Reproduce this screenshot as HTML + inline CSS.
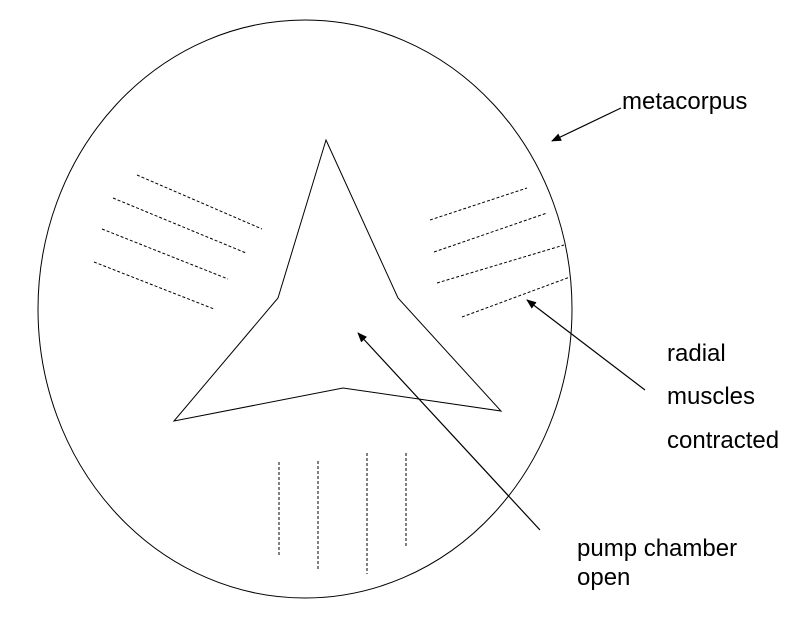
<!DOCTYPE html>
<html><head><meta charset="utf-8"><style>
html,body{margin:0;padding:0;background:#fff;}
svg{display:block;}
text{font-family:"Liberation Sans",Arial,sans-serif;font-size:24px;fill:#000;}
</style></head><body>
<svg width="792" height="629" viewBox="0 0 792 629" xmlns="http://www.w3.org/2000/svg">
<defs><marker id="a" markerWidth="10" markerHeight="8" refX="9" refY="4" orient="auto" markerUnits="userSpaceOnUse"><path d="M0,0 L10,4 L0,8 z" fill="#000"/></marker></defs>
<ellipse cx="305" cy="309" rx="267" ry="289" fill="none" stroke="#000" stroke-width="1"/>
<polygon points="326,140 398,298 501,411 343,388 174,421 278,298" fill="none" stroke="#000" stroke-width="1"/>
<g stroke="#000" stroke-width="1" stroke-dasharray="3,2">
<line x1="137" y1="175" x2="262" y2="229"/>
<line x1="113" y1="198" x2="246" y2="253"/>
<line x1="102" y1="229" x2="228" y2="279"/>
<line x1="94" y1="262" x2="214" y2="309"/>
<line x1="430" y1="220" x2="527" y2="188"/>
<line x1="434" y1="252" x2="547" y2="213"/>
<line x1="437" y1="283" x2="564" y2="245"/>
<line x1="462" y1="317" x2="570" y2="277"/>
<line x1="279" y1="462" x2="279" y2="556"/>
<line x1="318" y1="461" x2="318" y2="570"/>
<line x1="367" y1="453" x2="367" y2="574"/>
<line x1="406" y1="453" x2="406" y2="548"/>
</g>
<g stroke="#000" stroke-width="1.2">
<line x1="621" y1="108" x2="552" y2="141" marker-end="url(#a)"/>
<line x1="645" y1="390" x2="527" y2="300" marker-end="url(#a)"/>
<line x1="540" y1="530" x2="358" y2="333" marker-end="url(#a)"/>
</g>
<text x="622" y="109">metacorpus</text>
<text x="667" y="361">radial</text>
<text x="667" y="404">muscles</text>
<text x="667" y="448">contracted</text>
<text x="577" y="556">pump chamber</text>
<text x="577" y="585">open</text>
</svg>
</body></html>
